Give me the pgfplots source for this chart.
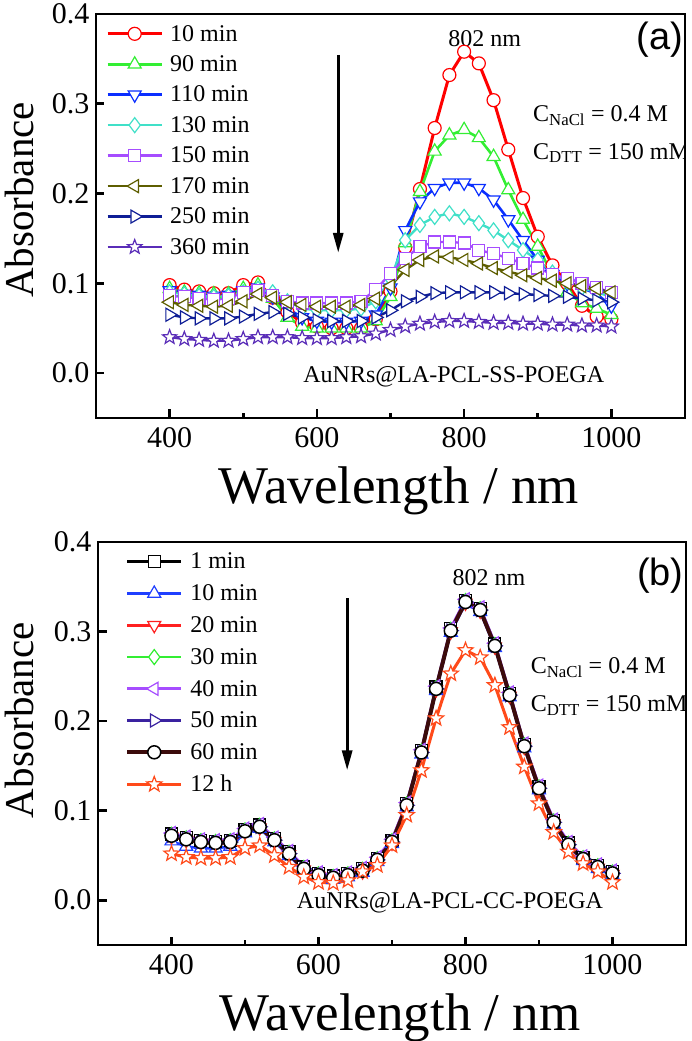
\documentclass[border=0pt]{standalone}
\usepackage{pgfplots}
\pgfplotsset{compat=1.18}
\usepackage{pgfplotstable}
\usetikzlibrary{arrows.meta}
\usepackage{fontspec}
\setmainfont{Liberation Serif}
\newfontfamily\sansf{Liberation Sans}

\newdimen\starin
\pgfdeclareplotmark{ostar}{%
 \starin=0.42\pgfplotmarksize
 \pgfpathmoveto{\pgfqpointpolar{90}{\pgfplotmarksize}}%
 \pgfpathlineto{\pgfqpointpolar{126}{\starin}}%
 \pgfpathlineto{\pgfqpointpolar{162}{\pgfplotmarksize}}%
 \pgfpathlineto{\pgfqpointpolar{198}{\starin}}%
 \pgfpathlineto{\pgfqpointpolar{234}{\pgfplotmarksize}}%
 \pgfpathlineto{\pgfqpointpolar{270}{\starin}}%
 \pgfpathlineto{\pgfqpointpolar{306}{\pgfplotmarksize}}%
 \pgfpathlineto{\pgfqpointpolar{342}{\starin}}%
 \pgfpathlineto{\pgfqpointpolar{18}{\pgfplotmarksize}}%
 \pgfpathlineto{\pgfqpointpolar{54}{\starin}}%
 \pgfpathclose
 \pgfusepathqfillstroke
}

\definecolor{ca1}{HTML}{FF0000}
\definecolor{ca2}{HTML}{33EE33}
\definecolor{ca3}{HTML}{0A2EFF}
\definecolor{ca4}{HTML}{40E0C8}
\definecolor{ca5}{HTML}{A64DFF}
\definecolor{ca6}{HTML}{5E5E00}
\definecolor{ca7}{HTML}{0F1E96}
\definecolor{ca8}{HTML}{5A2DB8}
\definecolor{cb1}{HTML}{000000}
\definecolor{cb2}{HTML}{1F3FFF}
\definecolor{cb3}{HTML}{FF2020}
\definecolor{cb4}{HTML}{33EE33}
\definecolor{cb5}{HTML}{A64DFF}
\definecolor{cb6}{HTML}{3A22A0}
\definecolor{cb7}{HTML}{3B0B0B}
\definecolor{cb8}{HTML}{FF4A1A}

\pgfplotstableread{
x r g b c p o n s
400 .098 .094 .092 .090 .086 .079 .065 .040
420 .093 .090 .088 .088 .085 .076 .062 .038
440 .091 .089 .087 .086 .083 .075 .061 .037
460 .089 .088 .086 .085 .082 .074 .061 .036
480 .089 .088 .087 .086 .083 .075 .061 .036
500 .098 .094 .092 .090 .090 .080 .063 .038
520 .101 .098 .095 .094 .092 .088 .066 .040
540 .084 .083 .085 .090 .086 .084 .068 .040
560 .068 .062 .072 .080 .080 .079 .066 .040
580 .056 .052 .062 .072 .078 .076 .062 .039
600 .052 .050 .058 .070 .078 .074 .059 .039
620 .050 .050 .057 .070 .078 .074 .058 .039
640 .050 .050 .057 .070 .078 .074 .058 .040
660 .050 .050 .058 .072 .080 .076 .058 .041
680 .060 .058 .065 .080 .093 .083 .062 .044
700 .091 .085 .095 .105 .111 .097 .070 .048
720 .140 .145 .159 .148 .128 .115 .080 .052
740 .205 .202 .191 .165 .141 .126 .085 .055
760 .273 .247 .206 .174 .146 .130 .089 .057
780 .332 .265 .212 .178 .146 .129 .090 .058
800 .358 .271 .212 .174 .145 .126 .090 .058
820 .345 .262 .206 .167 .137 .122 .090 .057
840 .304 .241 .193 .159 .133 .117 .090 .056
860 .249 .204 .171 .148 .128 .113 .089 .056
880 .195 .171 .148 .137 .122 .109 .088 .055
900 .152 .141 .126 .126 .117 .106 .087 .055
920 .120 .110 .110 .112 .110 .103 .086 .054
940 .100 .090 .100 .102 .105 .100 .085 .054
960 .075 .078 .095 .095 .100 .097 .083 .053
980 .063 .072 .088 .090 .095 .094 .081 .053
1000 .060 .065 .075 .085 .090 .090 .079 .052
}\tabA

\pgfplotstableread{
x k bl rd gr vi nv ci st
400 .074 .066 .071 .073 .075 .072 .072 .052
420 .070 .060 .067 .069 .071 .068 .068 .048
440 .067 .058 .064 .066 .068 .065 .065 .047
460 .066 .058 .063 .065 .067 .064 .064 .047
480 .067 .060 .064 .066 .068 .065 .065 .048
500 .079 .075 .076 .078 .080 .077 .077 .058
520 .084 .080 .081 .083 .085 .082 .082 .061
540 .069 .065 .066 .068 .070 .067 .067 .050
560 .054 .050 .051 .053 .055 .052 .052 .037
580 .037 .033 .034 .036 .038 .035 .035 .026
600 .030 .026 .027 .029 .031 .028 .028 .020
620 .027 .023 .024 .026 .028 .025 .025 .019
640 .030 .026 .027 .029 .031 .028 .028 .022
660 .035 .031 .032 .034 .036 .033 .033 .032
680 .047 .043 .044 .046 .048 .045 .045 .039
700 .067 .063 .064 .066 .068 .065 .065 .061
720 .108 .104 .105 .107 .109 .106 .106 .095
740 .167 .163 .164 .166 .168 .165 .165 .145
760 .238 .234 .235 .237 .239 .236 .236 .203
780 .303 .299 .300 .302 .304 .301 .301 .253
800 .335 .331 .332 .334 .336 .333 .333 .279
820 .326 .322 .323 .325 .327 .324 .324 .271
840 .286 .282 .283 .285 .287 .284 .284 .240
860 .231 .227 .228 .230 .232 .229 .229 .193
880 .174 .170 .171 .173 .175 .172 .172 .149
900 .127 .123 .124 .126 .128 .125 .125 .108
920 .089 .085 .086 .088 .090 .087 .087 .076
940 .064 .060 .061 .063 .065 .062 .062 .054
960 .048 .044 .045 .047 .049 .046 .046 .041
980 .039 .035 .036 .038 .040 .037 .037 .032
1000 .032 .028 .029 .031 .033 .030 .030 .020
}\tabB

\pgfplotsset{
 myaxis/.style={
  scale only axis, anchor=south west,
  xmin=300, xmax=1100, ymin=-0.05, ymax=0.4,
  xtick={400,600,800,1000}, minor xtick={500,700,900},
  xticklabels={400,600,800,1000},
  ytick={0,0.1,0.2,0.3,0.4},
  yticklabels={0.0,0.1,0.2,0.3,0.4},
  xtick pos=bottom, ytick pos=left, tick align=inside,
  major tick length=8.5pt, minor tick length=5pt,
  every tick/.style={black, line width=2.6pt},
  axis line style={line width=2.8pt},
  tick label style={font=\fontsize{30}{30}\selectfont},
  xticklabel style={yshift=-6pt},
  yticklabel style={xshift=-3pt},
  xlabel={Wavelength / nm}, ylabel={Absorbance},
  xlabel style={font=\fontsize{53}{53}\selectfont, inner sep=0pt, anchor=north},
  ylabel style={font=\fontsize{41}{41}\selectfont, inner sep=0pt, anchor=south},
  legend cell align=left,
  legend style={draw=none, fill=none, font=\fontsize{24}{24}\selectfont, row sep=9pt, inner sep=0pt, column sep=5pt, anchor=north west},
  legend image code/.code={\draw[mark repeat=2,mark phase=2] plot coordinates {(0pt,0pt) (27pt,0pt) (54pt,0pt)};},
 },
 mo/.style={mark options={fill=white, line width=1.2pt, #1}},
}

\begin{document}
\begin{tikzpicture}
\useasboundingbox (0,0) rectangle (692pt,1041pt);
% ---------------- panel (a)
\begin{axis}[myaxis, at={(96pt,623pt)}, width=589pt, height=404pt,
  xlabel style={at={(axis description cs:0.514,-0.121)}},
  ylabel style={at={(axis description cs:-0.105,0.54)}},
  legend style={at={(axis description cs:0.017,0.978)}}]
\addplot[color=ca1, line width=3pt, mark=*, mark size=6.5pt, mo={}] table[x=x,y=r]{\tabA};
\addlegendentry{10 min}
\addplot[color=ca2, line width=2.6pt, mark=triangle*, mark size=7.5pt, mo={}] table[x=x,y=g]{\tabA};
\addlegendentry{90 min}
\addplot[color=ca3, line width=2.6pt, mark=triangle*, mark size=7.5pt, mo={rotate=180}] table[x=x,y=b]{\tabA};
\addlegendentry{110 min}
\addplot[color=ca4, line width=2.4pt, mark=diamond*, mark size=7.5pt, mo={}] table[x=x,y=c]{\tabA};
\addlegendentry{130 min}
\addplot[color=ca5, line width=2.4pt, mark=square*, mark size=6pt, mo={}] table[x=x,y=p]{\tabA};
\addlegendentry{150 min}
\addplot[color=ca6, line width=2.4pt, mark=triangle*, mark size=7.5pt, mo={rotate=90}] table[x=x,y=o]{\tabA};
\addlegendentry{170 min}
\addplot[color=ca7, line width=2.4pt, mark=triangle*, mark size=7.5pt, mo={rotate=-90}] table[x=x,y=n]{\tabA};
\addlegendentry{250 min}
\addplot[color=ca8, line width=2.4pt, mark=ostar, mark size=7.5pt, mo={}] table[x=x,y=s]{\tabA};
\addlegendentry{360 min}
\draw[line width=3pt, -{Triangle[length=20pt,width=10pt]}] (axis cs:629,0.3545) -- (axis cs:629,0.134);
\node[font=\fontsize{24}{24}\selectfont] at (axis cs:828,0.372) {802 nm};
\node[font=\sansf\fontsize{38}{38}\selectfont] at (axis cs:1066,0.371) {(a)};
\node[font=\fontsize{24}{24}\selectfont, anchor=west] at (axis cs:889,0.287) {C\textsubscript{NaCl} = 0.4 M};
\node[font=\fontsize{24}{24}\selectfont, anchor=west] at (axis cs:889,0.245) {C\textsubscript{DTT} = 150 mM};
\node[font=\fontsize{24}{24}\selectfont, anchor=east] at (axis cs:995,-0.004) {AuNRs@LA-PCL-SS-POEGA};
\end{axis}
% ---------------- panel (b)
\begin{axis}[myaxis, at={(98pt,96pt)}, width=588pt, height=403pt,
  xlabel style={at={(axis description cs:0.514,-0.121)}},
  ylabel style={at={(axis description cs:-0.108,0.558)}},
  legend style={at={(axis description cs:0.046,0.978)}, row sep=10.3pt}]
\addplot[color=cb1, line width=2.6pt, mark=square*, mark size=6pt, mo={}] table[x=x,y=k]{\tabB};
\addlegendentry{1 min}
\addplot[color=cb2, line width=2.6pt, mark=triangle*, mark size=7.5pt, mo={}] table[x=x,y=bl]{\tabB};
\addlegendentry{10 min}
\addplot[color=cb3, line width=2.6pt, mark=triangle*, mark size=7.5pt, mo={rotate=180}] table[x=x,y=rd]{\tabB};
\addlegendentry{20 min}
\addplot[color=cb4, line width=2.6pt, mark=diamond*, mark size=7.5pt, mo={}] table[x=x,y=gr]{\tabB};
\addlegendentry{30 min}
\addplot[color=cb5, line width=2.6pt, mark=triangle*, mark size=7.5pt, mo={rotate=90}] table[x=x,y=vi]{\tabB};
\addlegendentry{40 min}
\addplot[color=cb6, line width=2.6pt, mark=triangle*, mark size=7.5pt, mo={rotate=-90}] table[x=x,y=nv]{\tabB};
\addlegendentry{50 min}
\addplot[color=cb7, line width=4pt, mark=*, mark size=6.5pt, mark options={fill=white, draw=black, line width=1.5pt}] table[x=x,y=ci]{\tabB};
\addlegendentry{60 min}
\addplot[color=cb8, line width=3pt, mark=ostar, mark size=8pt, mo={}] table[x=x,y=st]{\tabB};
\addlegendentry{12 h}
\draw[line width=3pt, -{Triangle[length=20pt,width=10pt]}] (axis cs:639,0.337) -- (axis cs:639,0.145);
\node[font=\fontsize{24}{24}\selectfont] at (axis cs:832,0.360) {802 nm};
\node[font=\sansf\fontsize{38}{38}\selectfont] at (axis cs:1065,0.362) {(b)};
\node[font=\fontsize{24}{24}\selectfont, anchor=west] at (axis cs:884,0.260) {C\textsubscript{NaCl} = 0.4 M};
\node[font=\fontsize{24}{24}\selectfont, anchor=west] at (axis cs:884,0.217) {C\textsubscript{DTT} = 150 mM};
\node[font=\fontsize{24}{24}\selectfont, anchor=east] at (axis cs:992,-0.003) {AuNRs@LA-PCL-CC-POEGA};
\end{axis}
\end{tikzpicture}
\end{document}
